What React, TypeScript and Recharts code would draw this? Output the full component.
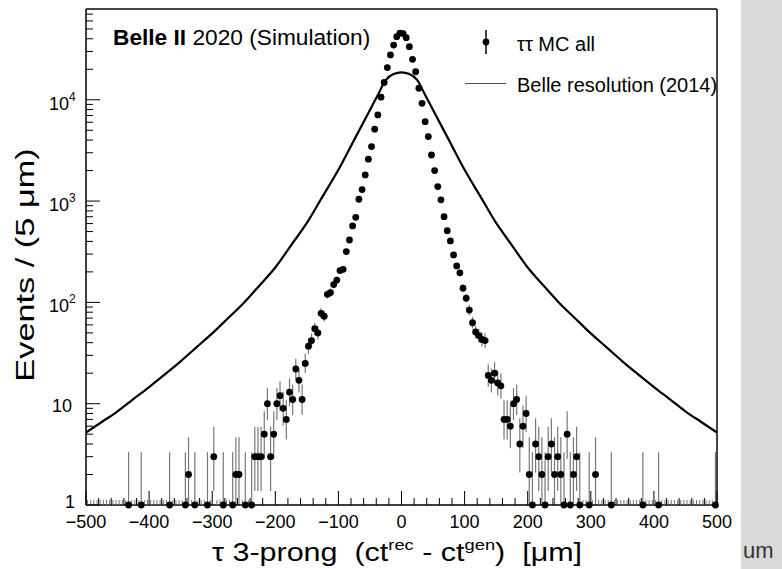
import React from 'react';
import {
  ComposedChart,
  Line,
  Scatter,
  XAxis,
  YAxis,
  ErrorBar,
  ReferenceLine,
} from 'recharts';

const FONT = '"Liberation Sans", Arial, Helvetica, sans-serif';

// tau-pair MC, 5 um bins.
// sparse tail bins are listed one by one, the populated core bin by bin from coreFirstBin
const binWidth = 5;

const leftTailX = [-432.5, -412.5, -367.5, -342.5, -337.5, -327.5, -307.5, -297.5, -282.5, -267.5, -262.5, -257.5, -247.5];
const leftTailN = [1, 1, 1, 1, 2, 1, 1, 3, 1, 1, 2, 2, 1];

const coreFirstBin = -237.5;
const coreN = [
  1, 3, 3, 3, 5, 10, 3, 5, 10, 12, 9, 7, 13, 11, 22, 17, 11, 25,
  37, 42, 55, 50, 78, 73, 120, 125, 150, 166, 206, 212, 317, 413, 568, 692, 1042,
  1300, 1810, 2590, 3450, 5120, 7080, 10600, 14800, 20800, 27700, 34700, 42000, 45500,
  45000, 41000, 33400, 25100, 18900, 13000, 9230, 6080, 4330, 2850, 2000, 1390, 1030,
  702, 510, 404, 294, 229, 196, 138, 110, 84, 63, 51, 47, 43, 42,
  19, 17, 20, 16, 15, 7, 7, 6, 10, 11, 4, 6, 8,
  2, 1, 4, 3, 2, 1, 3, 4, 2, 3, 2, 1, 5, 1, 2, 3, 1,
];

const rightTailX = [297.5, 307.5, 332.5, 382.5, 407.5, 497.5];
const rightTailN = [1, 2, 1, 1, 1, 1];

// Belle resolution (2014)
const beltX = [
  -500, -475, -450, -425, -400, -375, -350, -325, -300, -275, -250, -225, -200, -175, -150, -125, -100, -75,
  -50, -37.5, -25, -12.5, 0, 12.5, 25, 37.5, 50,
  75, 100, 125, 150, 175, 200, 225, 250, 275, 300, 325, 350, 375, 400, 425, 450, 475, 500,
];
const beltY = [
  5.2, 6.6, 8.4, 11.1, 14.6, 19.5, 26.2, 36, 49.4, 69.8, 98.6, 147, 221, 366, 608, 1112, 2037, 4018,
  7925, 11150, 15600, 17990, 18660, 17990, 15600, 11150, 7925,
  4018, 2037, 1112, 608, 366, 221, 147, 98.6, 69.8, 49.4, 36, 26.2, 19.5, 14.6, 11.1, 8.4, 6.6, 5.2,
];

const X_MIN = -500;
const X_MAX = 500;
const Y_MIN = 1;
const Y_MAX = 78700;

const xTicks: number[] = [];
for (let v = X_MIN; v <= X_MAX; v += 20) xTicks.push(v);

const yTicks: number[] = [];
for (let e = 0; e <= 4; e++) {
  for (let m = 1; m <= 9; m++) {
    const v = m * Math.pow(10, e);
    if (v <= Y_MAX) yTicks.push(v);
  }
}

// Gehrels approximation of the 68% Poisson interval, lower edge kept at the axis minimum
const poissonErr = (n: number): [number, number] => {
  const up = n + Math.sqrt(n + 0.75) + 1;
  const lo = n * Math.pow(1 - 1 / (9 * n) - 1 / (3 * Math.sqrt(n)), 3);
  return [n - Math.max(lo, Y_MIN), up - n];
};

const mcData = [
  ...leftTailX.map((x, i) => ({ x, y: leftTailN[i] })),
  ...coreN.map((n, i) => ({ x: coreFirstBin + binWidth * i, y: n })),
  ...rightTailX.map((x, i) => ({ x, y: rightTailN[i] })),
].map((d) => ({ ...d, err: poissonErr(d.y) }));

// empty bins get a short stub on the lower edge
const filled = new Set(mcData.map((d) => d.x));
const emptyData: { x: number; y: number }[] = [];
for (let i = 0; i < (X_MAX - X_MIN) / binWidth; i++) {
  const c = X_MIN + binWidth / 2 + binWidth * i;
  if (!filled.has(c)) emptyData.push({ x: c, y: Y_MIN });
}

const curveData = beltX.map((x, i) => ({ x, y: beltY[i] }));

const XTick = ({ x, y, payload }: any) => {
  const v = payload.value;
  const major = v % 100 === 0;
  return (
    <g>
      <line x1={x} x2={x} y1={y} y2={y - (major ? 14 : 7)} stroke="#000" strokeWidth={1} />
      {major && (
        <text x={x} y={y + 23} textAnchor="middle" fontSize={18} fontFamily={FONT} fill="#000">
          {v < 0 ? `\u2212${-v}` : `${v}`}
        </text>
      )}
    </g>
  );
};

const YTick = ({ x, y, payload }: any) => {
  const v = payload.value;
  const e = Math.round(Math.log10(v));
  const major = Math.abs(v - Math.pow(10, e)) < 1e-6;
  let label = null;
  if (major && e === 0) {
    label = <text x={x - 11} y={y + 3} textAnchor="end" fontSize={18} fontFamily={FONT}>1</text>;
  } else if (major && e === 1) {
    label = <text x={x - 14} y={y + 8} textAnchor="end" fontSize={18} fontFamily={FONT}>10</text>;
  } else if (major) {
    label = (
      <g>
        <text x={x - 17} y={y + 10} textAnchor="end" fontSize={18} fontFamily={FONT}>10</text>
        <text x={x - 17} y={y + 1} textAnchor="start" fontSize={12} fontFamily={FONT}>{e}</text>
      </g>
    );
  }
  return (
    <g>
      <line x1={x} x2={x + (major ? 14 : 7)} y1={y} y2={y} stroke="#000" strokeWidth={1} />
      {label}
    </g>
  );
};

const McDot = (p: any) => <circle cx={p.cx} cy={p.cy} r={3.4} fill="#000" />;
const EmptyStub = (p: any) => (
  <line x1={p.cx} x2={p.cx} y1={p.cy} y2={p.cy - 5} stroke="#777" strokeWidth={1} />
);

export default function App() {
  return (
    <div style={{ position: 'absolute', left: 0, top: 0, width: 782, height: 569, background: '#fff' }}>
      <ComposedChart width={782} height={569} data={curveData} margin={{ top: 9, right: 65, bottom: 0, left: 0 }}>
        <XAxis
          dataKey="x"
          type="number"
          domain={[X_MIN, X_MAX]}
          ticks={xTicks}
          interval={0}
          tickSize={0}
          tickMargin={0}
          tickLine={false}
          tick={(p: any) => <XTick {...p} />}
          axisLine={{ stroke: '#000', strokeWidth: 1.5 }}
          height={64}
        />
        <YAxis
          dataKey="y"
          type="number"
          scale="log"
          domain={[Y_MIN, Y_MAX]}
          ticks={yTicks}
          interval={0}
          tickSize={0}
          tickMargin={0}
          tickLine={false}
          tick={(p: any) => <YTick {...p} />}
          axisLine={{ stroke: '#000', strokeWidth: 1.5 }}
          width={86}
        />
        <ReferenceLine y={Y_MAX} stroke="#444" strokeWidth={2} />
        <ReferenceLine x={X_MAX} stroke="#444" strokeWidth={2} />
        <Line dataKey="y" type="monotone" stroke="#000" strokeWidth={2.2} dot={false} isAnimationActive={false} />
        <Scatter data={emptyData} shape={EmptyStub} isAnimationActive={false} />
        <Scatter data={mcData} shape={McDot} isAnimationActive={false}>
          <ErrorBar dataKey="err" direction="y" width={0} stroke="#777" strokeWidth={1.2} />
        </Scatter>
      </ComposedChart>

      <svg width={782} height={569} style={{ position: 'absolute', left: 0, top: 0, pointerEvents: 'none' }} fontFamily={FONT}>
        <rect x={741} y={0} width={41} height={569} fill="#d9d9d9" />
        <text x={743} y={558} fontSize={22} fill="#333">um</text>

        <text x={113} y={45} fontSize={22.7} fill="#000">
          <tspan fontWeight="bold">Belle II</tspan>
          <tspan> 2020 (Simulation)</tspan>
        </text>

        {/* legend */}
        <line x1={486} x2={486} y1={30} y2={54} stroke="#000" strokeWidth={1.5} />
        <circle cx={486} cy={42} r={3.4} fill="#000" />
        <text x={517} y={50.5} fontSize={20} fill="#000">ττ MC all</text>
        <line x1={465} x2={506} y1={83.5} y2={83.5} stroke="#555" strokeWidth={1} />
        <text x={517} y={91.5} fontSize={20} fill="#000">Belle resolution (2014)</text>

        {/* axis titles */}
        <g transform="translate(397,561) scale(1.22,1)">
          <text x={0} y={0} textAnchor="middle" fontSize={25} fill="#000" style={{ whiteSpace: 'pre' }}>
            τ 3-prong  (ct<tspan dy={-11} fontSize={15}>rec</tspan><tspan dy={11}> - ct</tspan><tspan dy={-11} fontSize={15}>gen</tspan><tspan dy={11}>)  [μm]</tspan>
          </text>
        </g>
        <g transform="translate(34,265) rotate(-90) scale(1.32,1)">
          <text x={0} y={0} textAnchor="middle" fontSize={26} fill="#000">Events / (5 μm)</text>
        </g>
      </svg>
    </div>
  );
}
